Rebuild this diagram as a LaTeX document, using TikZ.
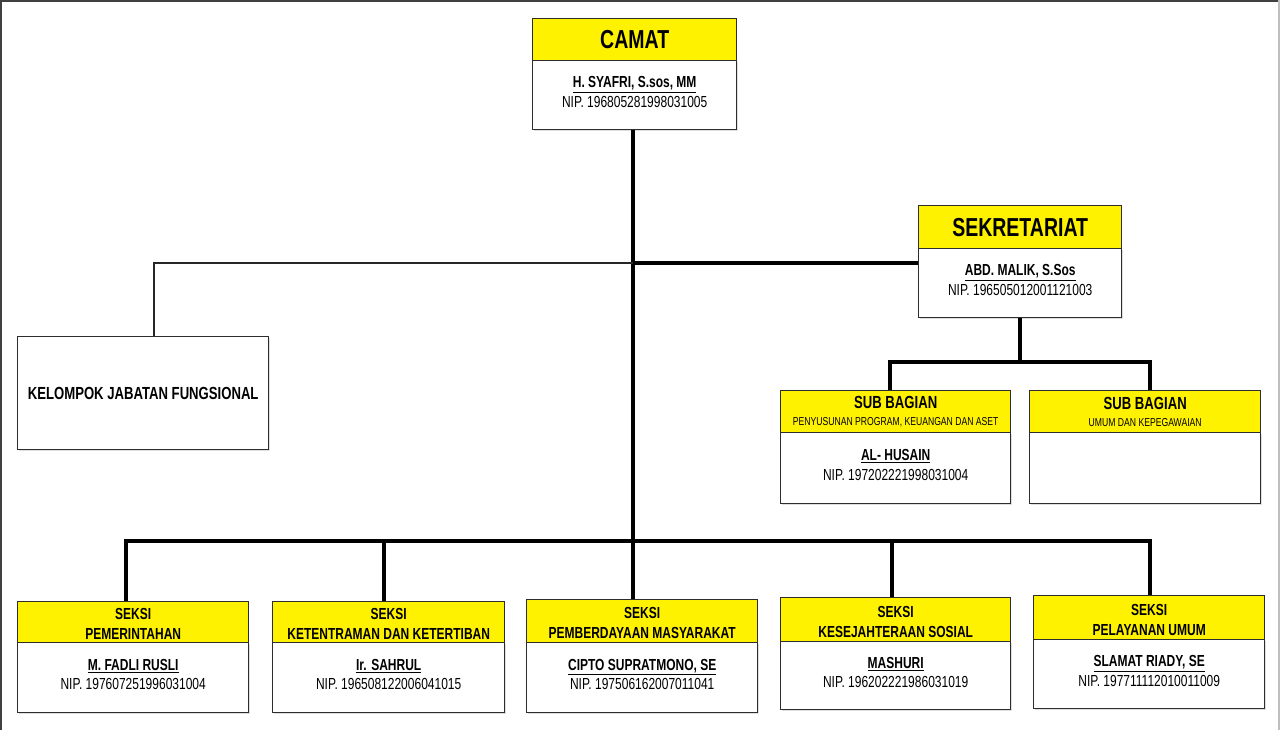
\documentclass[tikz,border=0pt]{standalone}
\usepackage{fontspec}
\setmainfont{Liberation Sans}[FakeStretch=0.75]
\usetikzlibrary{shadows}
\definecolor{hdr}{RGB}{255,242,0}
\definecolor{edgec}{RGB}{45,45,45}
\newcommand{\bodyfont}{\fontsize{16}{19.5}\selectfont}
\newcommand{\seksifont}{\fontsize{16}{20}\selectfont}
\tikzset{
  hdrbox/.style={draw=edgec, line width=1.4pt, fill=hdr, anchor=north west, inner sep=0pt, align=center, font=\seksifont\bfseries},
  hdrtext/.style={inner sep=0pt, align=center, font=\seksifont\bfseries},
  bodybox/.style={draw=edgec, line width=1.4pt, fill=white, anchor=north west, inner sep=0pt, align=center,
    drop shadow={opacity=0.25, shadow xshift=1.5pt, shadow yshift=-1.5pt}},
  bodytext/.style={inner sep=0pt, align=center, font=\bodyfont},
  thickln/.style={line width=3.5pt, black},
  thinln/.style={line width=2pt, black!85},
}
\newcommand{\orgbox}[9]{%
  \node[bodybox, minimum width=#4pt, minimum height=#6pt] (#1B) at (#2,#3+#5) {};
  \node[bodytext] (#1T) at ([yshift=3pt]#1B.center) {#8};
  \node[hdrbox, minimum width=#4pt, minimum height=#5pt] (#1H) at (#2,#3) {};
  \node[hdrtext] (#1L) at ([yshift=#9pt]#1H.center) {#7};
}
\newcommand{\pname}[1]{\textbf{\underline{#1}}}
\newcommand{\subline}[1]{{\fontsize{11.5}{12}\selectfont\mdseries #1}}
\begin{document}
\begin{tikzpicture}[x=1pt,y=-1pt]
\useasboundingbox (0,0) rectangle (1280,730);
\fill[white] (0,0) rectangle (1280,730);
% frame
\draw[black!75, line width=2pt] (0,1) -- (1280,1);
\draw[black!75, line width=2pt] (1,0) -- (1,730);
\draw[black!25, line width=1.5pt] (1279,0) -- (1279,730);

% boxes
\orgbox{camat}{532}{18}{204}{42}{69}{\fontsize{26}{28}\selectfont CAMAT}{\pname{H. SYAFRI, S.sos, MM}\\NIP. 196805281998031005}{0}
\orgbox{sek}{918}{205}{203}{43}{69}{\fontsize{26}{28}\selectfont SEKRETARIAT}{\pname{ABD. MALIK, S.Sos}\\NIP. 196505012001121003}{0}
\orgbox{subA}{780}{390}{230}{42}{71}{{\fontsize{17.5}{18}\selectfont SUB BAGIAN}\\[-3pt]\subline{PENYUSUNAN PROGRAM, KEUANGAN DAN ASET}}{\pname{AL- HUSAIN}\\NIP. 197202221998031004}{0}
\orgbox{subB}{1029}{390}{231}{42}{71}{{\fontsize{17.5}{18}\selectfont SUB BAGIAN}\\[-3pt]\subline{UMUM DAN KEPEGAWAIAN}}{}{0}
\node[bodybox, minimum width=251pt, minimum height=113pt, font=\fontsize{17.5}{20}\selectfont\bfseries] (kel) at (17,336) {KELOMPOK JABATAN FUNGSIONAL};

\orgbox{sA}{17}{601}{231}{41}{70}{SEKSI\\PEMERINTAHAN}{\pname{M. FADLI RUSLI}\\NIP. 197607251996031004}{-2}
\orgbox{sB}{272}{601}{232}{41}{70}{SEKSI\\KETENTRAMAN DAN KETERTIBAN}{\pname{Ir. SAHRUL}\\NIP. 196508122006041015}{-2}
\orgbox{sC}{526}{599}{231}{43}{70}{SEKSI\\PEMBERDAYAAN MASYARAKAT}{\pname{CIPTO SUPRATMONO, SE}\\NIP. 197506162007011041}{-2}
\orgbox{sD}{780}{597}{230}{44}{68}{SEKSI\\KESEJAHTERAAN SOSIAL}{\pname{MASHURI}\\NIP. 196202221986031019}{-2}
\orgbox{sE}{1033}{595}{231}{44}{69}{SEKSI\\PELAYANAN UMUM}{\pname{SLAMAT RIADY, SE}\\NIP. 197711112010011009}{-2}

% connectors
\coordinate (jA) at (633,263);
\coordinate (jB) at (633,541);
\coordinate (jC) at (1020,362);
\coordinate (dA) at (126,541);
\coordinate (dB) at (384,541);
\coordinate (dD) at (892,541);
\coordinate (dE) at (1150,541);
\coordinate (dk) at (154,263);
\coordinate (ds1) at (890,362);
\coordinate (ds2) at (1150,362);

\draw[thickln] (camatB.south -| jA) -- (jB);
\draw[thinln] (dk |- kel.north) -- (dk) -- (jA);
\draw[thickln] (jA) -- (sekB.west |- jA);
\draw[thickln] (sekB.south) -- (sekB.south |- jC);
\draw[thickln, line join=miter] (ds1 |- subAH.north) -- (ds1) -- (ds2) -- (ds2 |- subBH.north);
\draw[thickln, line join=miter] (dA |- sAH.north) -- (dA) -- (dE) -- (dE |- sEH.north);
\draw[thickln] (dB) -- (dB |- sBH.north);
\draw[thickln] (jB) -- (jB |- sCH.north);
\draw[thickln] (dD) -- (dD |- sDH.north);
\end{tikzpicture}
\end{document}
